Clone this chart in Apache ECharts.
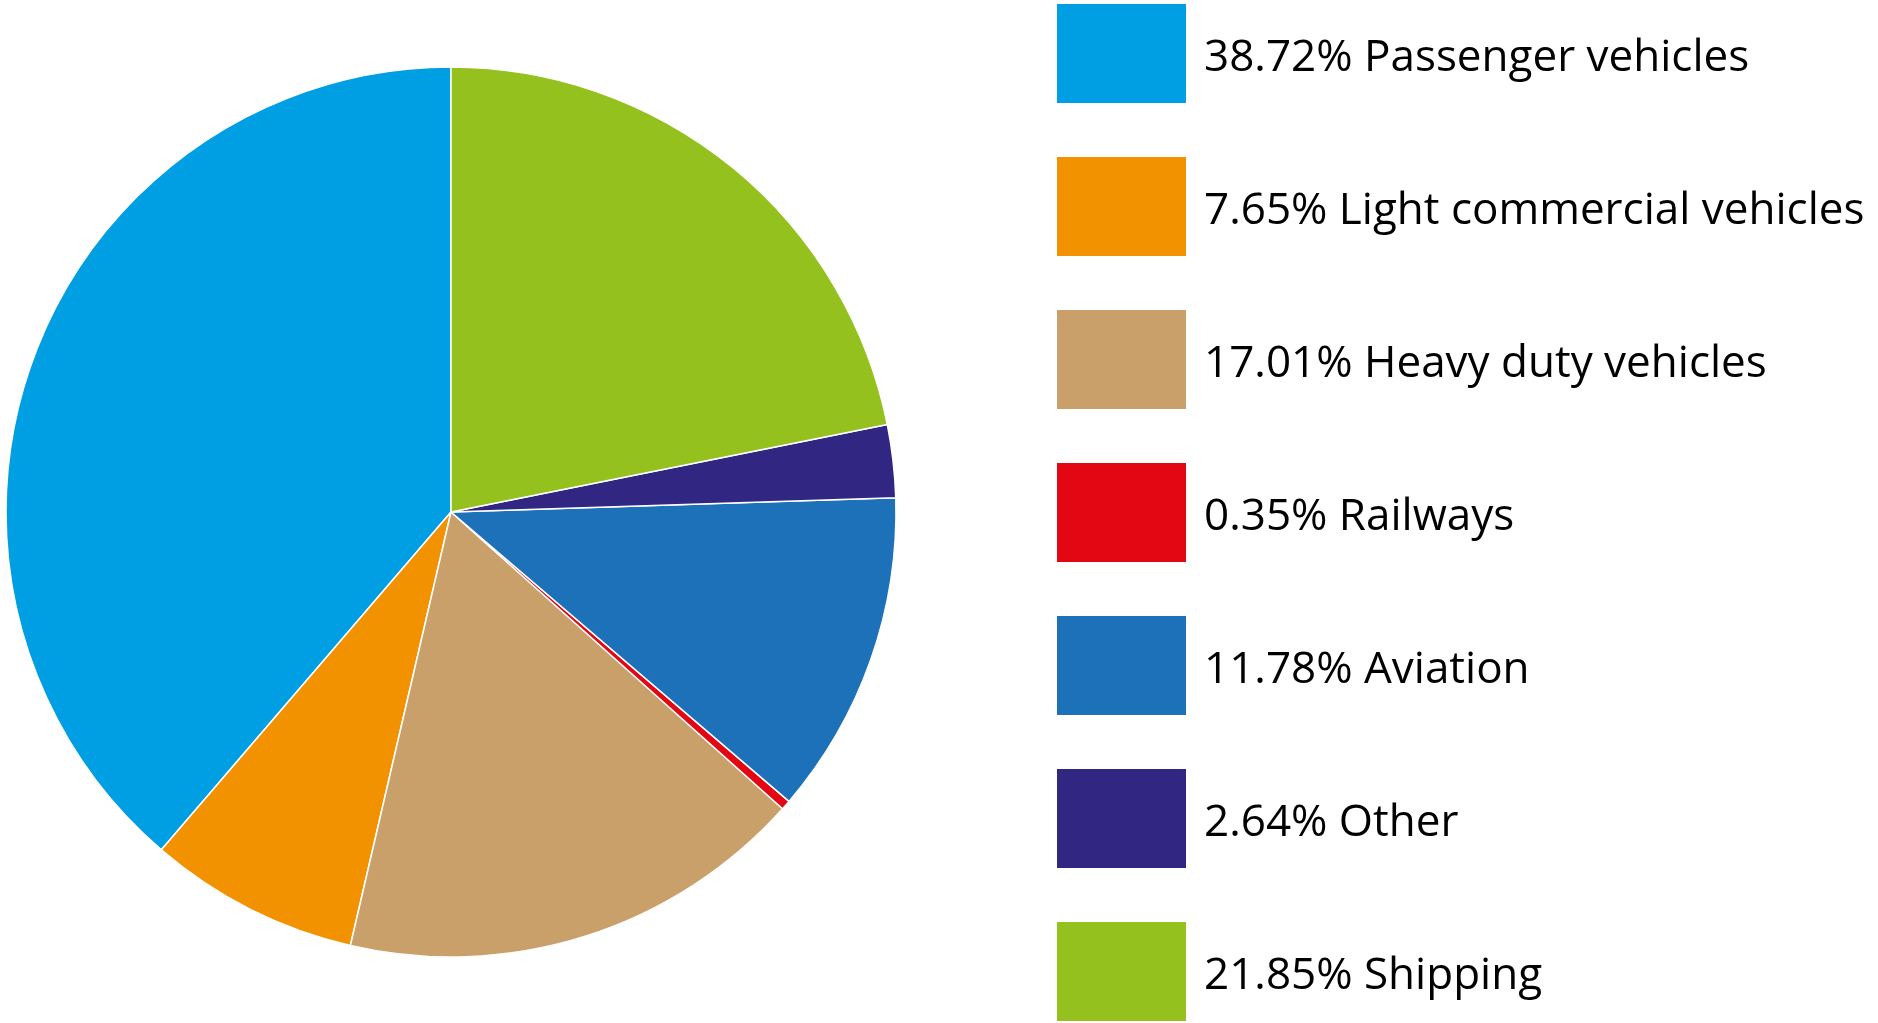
<!DOCTYPE html>
<html>
<head>
<meta charset="utf-8">
<script src="https://cdn.jsdelivr.net/npm/echarts@6/dist/echarts.min.js"></script>
<style>
  html, body { margin: 0; padding: 0; background: #fff; }
  #chart { width: 1878px; height: 1023px; }
</style>
</head>
<body>
<div id="chart"></div>
<script>
  // transport emissions share, listed counter-clockwise from 12 o'clock
  const categories = ['Passenger vehicles', 'Light commercial vehicles', 'Heavy duty vehicles', 'Railways', 'Aviation', 'Other', 'Shipping']
  const shares = [38.72, 7.65, 17.01, 0.35, 11.78, 2.64, 21.85]
  const colors = ['#009FE3', '#F39200', '#C99F6A', '#E30613', '#1D71B8', '#312783', '#95C11F']

  let data = []
  for (let i = 0; i < categories.length; i++) {
    data.push({ name: categories[i], value: shares[i] })
  }

  let myChart = echarts.init(document.getElementById('chart'))
  myChart.setOption({
    animation: false,
    color: colors,
    legend: {
      orient: 'vertical',
      left: 1055,
      top: 2,
      height: 1200,
      padding: 0,
      icon: 'rect',
      itemWidth: 131,
      itemHeight: 101,
      itemGap: 50,
      selectedMode: false,
      data: categories,
      formatter: function (name) {
        const i = categories.indexOf(name)
        return '{t|' + shares[i].toFixed(2) + '% ' + name + '}'
      },
      textStyle: {
        fontFamily: 'Open Sans',
        fontSize: 44,
        color: '#000',
        padding: [0, 0, 0, 12],
        rich: {
          // nudge text a little lower, like the source
          t: { fontFamily: 'Open Sans', fontSize: 44, color: '#000', padding: [10, 0, 0, 0] }
        }
      }
    },
    series: [
      {
        type: 'pie',
        center: [451, 512],
        radius: 445,
        startAngle: 90,
        clockwise: false,
        label: { show: false },
        labelLine: { show: false },
        itemStyle: {
          borderColor: '#fff',
          borderWidth: 1.5
        },
        emphasis: { disabled: true },
        data: data
      }
    ]
  })
</script>
</body>
</html>
